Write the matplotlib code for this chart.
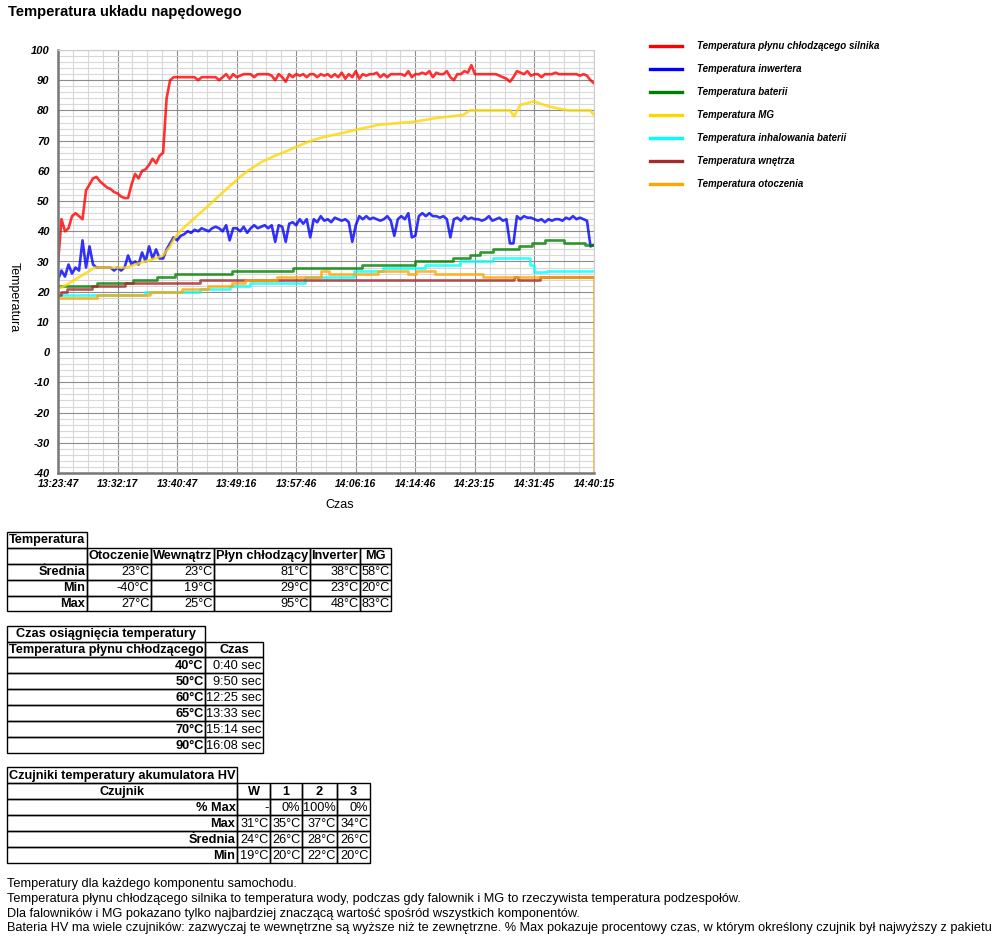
import numpy as np
import matplotlib
matplotlib.use('Agg')
import matplotlib.pyplot as plt
from matplotlib.lines import Line2D
from matplotlib.patches import Rectangle
from matplotlib.ticker import MultipleLocator, FixedLocator

plt.rcParams['font.family'] = ['Liberation Sans', 'DejaVu Sans']
plt.rcParams['axes.unicode_minus'] = False

W, H = 1004, 947

# --- chart data (minutes since 13:23:47) ---
TOTAL_MIN = 76.467
tick_labels = ['13:23:47', '13:32:17', '13:40:47', '13:49:16', '13:57:46',
               '14:06:16', '14:14:46', '14:23:15', '14:31:45', '14:40:15']

# coolant temperature, sampled evenly across the run
coolant = [29.5, 44, 40, 41, 45, 46, 45, 44, 53.5, 55.5,
           57.5, 58, 56.5, 55.5, 54.5, 54, 53, 52.5, 51.5, 51,
           51, 55.5, 59, 57.5, 60, 60.5, 62, 64, 62.5, 65,
           66, 84, 90, 91, 91, 91, 91, 91, 91, 91,
           90, 91, 91, 91, 91, 91, 90, 91, 92, 90.5,
           92, 91, 91.5, 92, 92, 92, 91, 92, 92, 92,
           92, 91.5, 90, 92, 91, 89.5, 92, 91, 92, 91.5,
           92, 91, 92, 92, 91, 92, 91.5, 92, 91, 92,
           91, 92.5, 90.5, 92, 91, 93, 90.5, 92, 91.5, 92,
           92, 92.5, 91, 92, 91, 92, 92, 92, 92, 91.5,
           93, 91, 92, 92, 92.5, 92, 93, 91, 92.5, 92,
           92, 93, 91, 90, 92, 92, 93, 92.5, 95, 92,
           92, 92, 92, 92, 92, 92, 91.5, 91, 90.5, 89.5,
           91, 93, 92.5, 92, 93, 91.5, 92, 92, 91, 92,
           92, 92, 92.5, 92, 92, 92, 92, 92, 92, 91.5,
           92, 91.5, 90, 89]

# inverter temperature, sampled evenly across the run
inverter = [24, 27, 25, 29, 26, 28, 27, 37, 28, 35,
            29, 28, 28, 28, 28, 28, 27, 28, 27, 28,
            32, 29, 30, 29, 33, 30, 35, 31, 34, 31,
            31, 34, 36, 38, 37, 38.5, 39, 40, 39.5, 40.5,
            40, 41, 40.5, 40, 41, 41.5, 41, 40, 42, 37,
            41, 41, 40, 41.5, 39.5, 41, 42, 41, 41.5, 42,
            41, 42, 36.5, 42, 41.5, 36.5, 42.5, 43, 42, 44,
            42.5, 44, 38, 44, 43, 45, 43.5, 44, 43, 44.5,
            44, 43.5, 44, 43, 36.5, 42, 45, 44, 45, 44,
            44.5, 44, 43.5, 44, 45, 43.5, 38.5, 44, 45, 44,
            46, 38, 38.5, 45, 46, 45, 46, 45, 45, 44.5,
            45, 44, 38, 44, 44.5, 43.5, 45, 44, 44.5, 44,
            44, 43.5, 44, 45, 43.5, 44, 44.5, 43.5, 44, 36,
            36, 45, 44, 45, 44.5, 44.5, 44, 43.5, 44, 43,
            44, 43.5, 44, 44, 43.5, 44.5, 44, 45, 44, 44.5,
            44, 43.5, 35, 35.5]

battery_t = [0, 5.56, 10.70, 14.12, 16.69, 24.82, 33.53, 43.37, 50.93, 56.35,
             58.78, 60.20, 62.06, 65.78, 67.63, 69.49, 72.19, 75.19, TOTAL_MIN]
battery = [22, 23, 24, 25, 26, 27, 28, 29, 30, 31,
           32, 33.3, 34, 35, 36, 37, 36.2, 35.5, 35.5]

mg_t = [0, 1.0, 2.43, 3.85, 5.28, 9.84, 10.99, 12.41, 13.84, 14.98,
        15.98, 16.69, 17.41, 18.83, 20.26, 21.69, 23.11, 24.54, 25.97, 27.39,
        29.10, 30.96, 33.10, 34.53, 36.38, 38.09, 39.95, 42.37, 43.94, 45.65,
        50.93, 53.79, 57.78, 58.78, 64.49, 65.06, 65.92, 67.91, 68.77, 70.19,
        72.76, 75.90, TOTAL_MIN]
mg = [21, 22, 24, 26, 28, 28, 29, 30, 31, 32,
      35, 38, 40, 43, 46, 49, 52, 55, 58, 60.5,
      63, 65, 67, 68.5, 70.2, 71.3, 72.2, 73.5, 74.3, 75.2,
      76.3, 77.4, 78.5, 80, 80, 78, 81.8, 83, 82.3, 81.2,
      80, 80, 78.5]

intake_t = [0, 12.41, 20.26, 24.54, 27.39, 35.24, 42.23, 46.36, 52.36, 57.35,
            62.06, 67.34, 67.9, 68.48, 69.77, TOTAL_MIN]
intake = [19, 20, 21, 22, 23, 25, 27, 28, 29, 30,
          31, 29, 26.5, 26.5, 27, 27]

cabin_t = [0, 0.4, 1.3, 4.9, 9.56, 20.26, 64.49, 65.06, 65.6, 68.77, TOTAL_MIN]
cabin = [19, 20, 21, 22, 23, 24, 24, 25, 24, 25, 25]

ambient_t = [0, 5.56, 13.13, 17.69, 21.40, 24.82, 26.68, 31.24, 37.52, 38.66,
             45.65, 49.93, 51.07, 53.79, 60.63, 76.40, TOTAL_MIN]
ambient = [18, 19, 20, 21, 22, 23, 24, 25, 27, 26,
           27, 26, 27, 26, 25, -40, -40]

series_labels = ['Temperatura płynu chłodzącego silnika', 'Temperatura inwertera',
                 'Temperatura baterii', 'Temperatura MG',
                 'Temperatura inhalowania baterii', 'Temperatura wnętrza',
                 'Temperatura otoczenia']
series_colors = ['#ff0000', '#0000ff', '#008000', '#ffd700', '#00ffff', '#a52a2a', '#ffa500']

# --- table data ---
t1_cols = ['', 'Otoczenie', 'Wewnątrz', 'Płyn chłodzący', 'Inverter', 'MG']
t1_rows = ['Średnia', 'Min', 'Max']
t1_vals = [['23°C', '23°C', '81°C', '38°C', '58°C'],
           ['-40°C', '19°C', '29°C', '23°C', '20°C'],
           ['27°C', '25°C', '95°C', '48°C', '83°C']]

t2_cols = ['Temperatura płynu chłodzącego', 'Czas']
t2_rows = ['40°C', '50°C', '60°C', '65°C', '70°C', '90°C']
t2_vals = [['0:40 sec'], ['9:50 sec'], ['12:25 sec'], ['13:33 sec'], ['15:14 sec'], ['16:08 sec']]

t3_cols = ['Czujnik', 'W', '1', '2', '3']
t3_rows = ['% Max', 'Max', 'Średnia', 'Min']
t3_vals = [['-', '0%', '100%', '0%'],
           ['31°C', '35°C', '37°C', '34°C'],
           ['24°C', '26°C', '28°C', '26°C'],
           ['19°C', '20°C', '22°C', '20°C']]

notes = ['Temperatury dla każdego komponentu samochodu.',
         'Temperatura płynu chłodzącego silnika to temperatura wody, podczas gdy falownik i MG to rzeczywista temperatura podzespołów.',
         'Dla falowników i MG pokazano tylko najbardziej znaczącą wartość spośród wszystkich komponentów.',
         'Bateria HV ma wiele czujników: zazwyczaj te wewnętrzne są wyższe niż te zewnętrzne. % Max pokazuje procentowy czas, w którym określony czujnik był najwyższy z pakietu']

fig = plt.figure(figsize=(W / 100, H / 100), dpi=100)

# overlay in pixel coordinates for the html-like parts
ov = fig.add_axes([0, 0, 1, 1])
ov.set_xlim(0, W)
ov.set_ylim(H, 0)
ov.axis('off')

ax = fig.add_axes([58 / W, 1 - 473 / H, (594 - 58) / W, (473 - 50) / H])
ax.set_xlim(0, TOTAL_MIN)
ax.set_ylim(-40, 100)
ax.set_yticks(range(-40, 101, 10))
ax.yaxis.set_minor_locator(MultipleLocator(2))
ax.set_xticks(np.linspace(0, TOTAL_MIN, len(tick_labels)))
ax.set_xticklabels(tick_labels)
ax.xaxis.set_minor_locator(FixedLocator(np.linspace(0, TOTAL_MIN, (len(tick_labels) - 1) * 4 + 1)))
ax.grid(which='major', color='#8c8c8c', lw=0.8)
ax.grid(which='minor', color='#d8d8d8', lw=0.8)
ax.set_axisbelow(True)
ax.tick_params(which='both', length=0)
ax.tick_params(axis='y', pad=6)
ax.tick_params(axis='x', pad=4)
for lab in ax.get_xticklabels():
    lab.set_fontweight('bold')
    lab.set_fontstyle('italic')
    lab.set_fontsize(7.4)
for lab in ax.get_yticklabels():
    lab.set_fontweight('bold')
    lab.set_fontstyle('italic')
    lab.set_fontsize(8.0)
for s in ['left', 'bottom']:
    ax.spines[s].set_color('#777777')
    ax.spines[s].set_linewidth(1.8)
for s in ['top', 'right']:
    ax.spines[s].set_color('#cccccc')
    ax.spines[s].set_linewidth(0.8)

lw = 1.9
ax.plot(np.linspace(0, TOTAL_MIN, len(coolant)), coolant, color=series_colors[0], lw=lw, alpha=0.8)
ax.plot(np.linspace(0, TOTAL_MIN, len(inverter)), inverter, color=series_colors[1], lw=lw, alpha=0.8)
ax.plot(battery_t, battery, color=series_colors[2], lw=lw, alpha=0.8, drawstyle='steps-post')
ax.plot(mg_t, mg, color=series_colors[3], lw=lw, alpha=0.8)
ax.plot(intake_t, intake, color=series_colors[4], lw=lw, alpha=0.8, drawstyle='steps-post')
ax.plot(cabin_t, cabin, color=series_colors[5], lw=lw, alpha=0.8, drawstyle='steps-post')
ax.plot(ambient_t, ambient, color=series_colors[6], lw=lw, alpha=0.8, drawstyle='steps-post')

handles = [Line2D([], [], color=c, lw=2.4) for c in series_colors]
fig.legend(handles, series_labels, loc='upper left',
           bbox_to_anchor=(650 / W, 1 - 41 / H), bbox_transform=fig.transFigure,
           frameon=False, borderpad=0, borderaxespad=0,
           handlelength=3.3, handletextpad=1.5, labelspacing=1.34,
           prop={'size': 7.0, 'weight': 'bold', 'style': 'italic'})

fig.text(8 / W, 1 - 12 / H, 'Temperatura układu napędowego', fontsize=10.6,
         fontweight='bold', va='center', ha='left')
fig.text(14 / W, 1 - 297 / H, 'Temperatura', rotation=-90, fontsize=9,
         ha='center', va='center')
fig.text(340 / W, 1 - 505 / H, 'Czas', fontsize=9, ha='center', va='center')

FS = 9.2


def cell(x0, x1, y0, y1, txt, ha='right', bold=False):
    ov.add_patch(Rectangle((x0, y0), x1 - x0, y1 - y0, fill=False, ec='black', lw=1.0))
    if ha == 'right':
        tx = x1 - 1.5
    elif ha == 'left':
        tx = x0 + 2
    else:
        tx = (x0 + x1) / 2
    ov.text(tx, (y0 + y1) / 2 + 0.5, txt, ha=ha, va='center', fontsize=FS,
            fontweight='bold' if bold else 'normal')


def table(xs, ys, caption, cap_ha, cols, rows, vals):
    cell(xs[0], xs[1], ys[0], ys[1], caption, cap_ha, True)
    for c, name in enumerate(cols):
        cell(xs[c], xs[c + 1], ys[1], ys[2], name, 'center', True)
    for r, name in enumerate(rows):
        cell(xs[0], xs[1], ys[r + 2], ys[r + 3], name, 'right', True)
        for c, v in enumerate(vals[r]):
            cell(xs[c + 1], xs[c + 2], ys[r + 2], ys[r + 3], v, 'right')


table([7, 87, 151, 214, 310, 360, 391],
      [531.5, 547.5, 563.5, 579.5, 595.5, 611],
      'Temperatura', 'left', t1_cols, t1_rows, t1_vals)
table([7, 205, 263],
      [626, 641.7, 657.3, 673.3, 689.3, 705.3, 721.3, 737.3, 753],
      'Czas osiągnięcia temperatury', 'center', t2_cols, t2_rows, t2_vals)
table([7, 237, 270, 302, 337, 370],
      [767.3, 783.3, 799.3, 815.3, 831.3, 847.3, 863.3],
      'Czujniki temperatury akumulatora HV', 'left', t3_cols, t3_rows, t3_vals)

for i, line in enumerate(notes):
    ov.text(7, 884 + i * 14.8, line, ha='left', va='center', fontsize=FS)

fig.savefig('out.png', dpi=100)
